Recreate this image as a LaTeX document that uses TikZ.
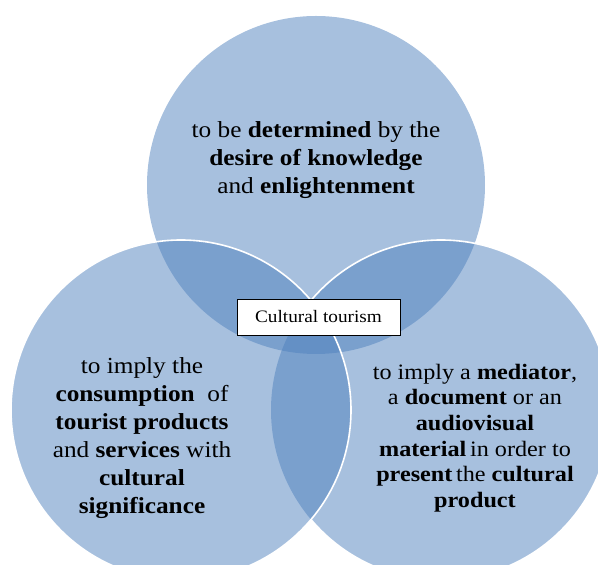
\documentclass[tikz,border=0pt]{standalone}
\usepackage{fontspec}
\setmainfont{Liberation Serif}
\newfontfamily\vennfont{Liberation Serif}[FakeStretch=1.1]
\definecolor{accent}{RGB}{79,129,189}
\begin{document}
\begin{tikzpicture}[x=1pt,y=1pt,
  venn/.style={fill=accent, fill opacity=0.5},
  rim/.style={draw=white, line width=1.6pt},
  label/.style={align=center, text=black, inner sep=0pt},
  keybox/.style={draw=black, line width=0.9pt, fill=white, minimum width=163pt, minimum height=36pt, inner sep=0pt}]
\useasboundingbox (0,0) rectangle (598,565);
\coordinate (T) at (316,380);
\coordinate (L) at (181,155);
\coordinate (R) at (441,155);
\fill[venn] (T) circle (169);
\fill[venn] (R) circle (170);
\fill[venn] (L) circle (170);
\begin{scope}[even odd rule]
  \clip (-30,-30) rectangle (630,600) (L) circle (170);
  \draw[rim] (R) circle (170);
\end{scope}
\draw[rim] (L) circle (170);
\node[label, font=\vennfont\fontsize{23}{27.7}\selectfont] (top) at (316,405)
  {to be \textbf{determined} by the\\ \textbf{desire of knowledge}\\ and \textbf{enlightenment}};
\node[label, font=\vennfont\fontsize{23}{28}\selectfont] (left) at (142,127)
  {to imply the\\ \textbf{consumption}\ \ of\\ \textbf{tourist products}\\ and \textbf{services} with\\ \textbf{cultural}\\ \textbf{significance}};
\node[label, font=\vennfont\fontsize{22}{25.6}\selectfont] (right) at (475,127)
  {to imply a \textbf{mediator},\\ a \textbf{document} or an\\ \textbf{audiovisual}\\ \textbf{material}\,in order to\\ \textbf{present}\,the \textbf{cultural}\\ \textbf{product}};
\node[keybox, font=\vennfont\fontsize{17.5}{21}\selectfont] (key) at (318.5,248) {Cultural tourism};
\end{tikzpicture}
\end{document}
